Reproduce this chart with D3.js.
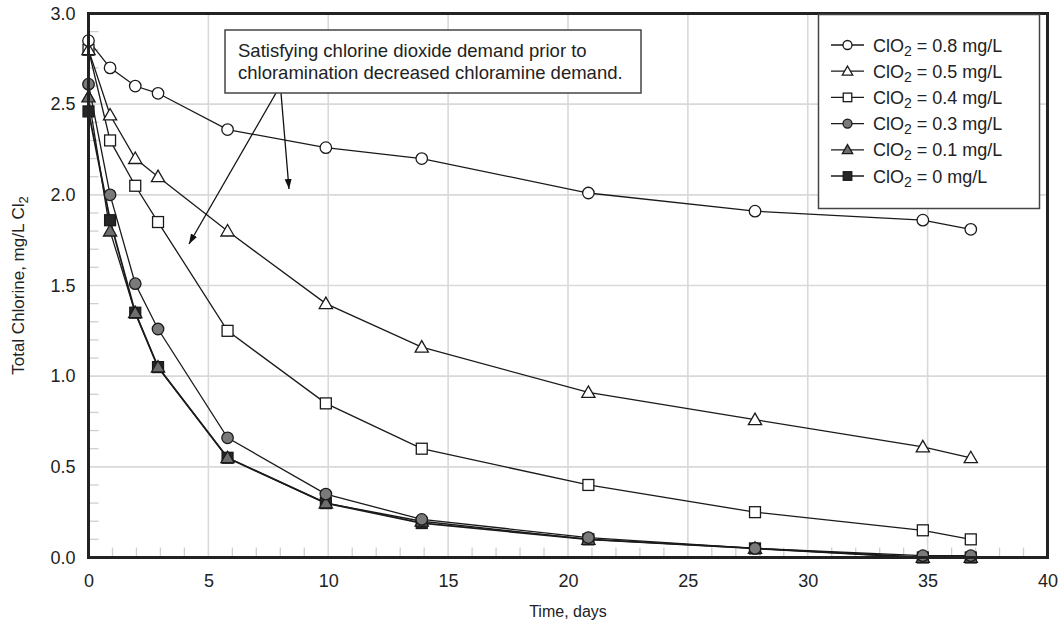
<!DOCTYPE html>
<html>
<head>
<meta charset="utf-8">
<script src="https://cdn.jsdelivr.net/npm/d3@7"></script>
<style>
  html, body { margin: 0; padding: 0; background: #fff; }
  svg { display: block; font-family: "Liberation Sans", Arial, Helvetica, sans-serif; }
</style>
</head>
<body>
<svg id="chart" width="1061" height="628"></svg>
<script>
// Sampling times (days)
const days = [0, 0.9, 1.95, 2.9, 5.8, 9.9, 13.9, 20.85, 27.8, 34.8, 36.8];

// Total chlorine (mg/L as Cl2) for each ClO2 pre-dose
const dose08 = [2.85, 2.70, 2.60, 2.56, 2.36, 2.26, 2.20, 2.01, 1.91, 1.86, 1.81];
const dose05 = [2.80, 2.44, 2.20, 2.10, 1.80, 1.40, 1.16, 0.91, 0.76, 0.61, 0.55];
const dose04 = [2.80, 2.30, 2.05, 1.85, 1.25, 0.85, 0.60, 0.40, 0.25, 0.15, 0.10];
const dose03 = [2.61, 2.00, 1.51, 1.26, 0.66, 0.35, 0.21, 0.11, 0.05, 0.01, 0.01];
const dose01 = [2.54, 1.80, 1.35, 1.05, 0.55, 0.30, 0.20, 0.10, 0.05, 0.00, 0.00];
const dose00 = [2.46, 1.86, 1.35, 1.05, 0.55, 0.30, 0.19, 0.10, 0.05, 0.00, 0.00];

const seriesLabels = ["0.8", "0.5", "0.4", "0.3", "0.1", "0"];
const xTicks = [0, 5, 10, 15, 20, 25, 30, 35, 40];
const yTicks = [0, 0.5, 1.0, 1.5, 2.0, 2.5, 3.0];
const noteLines = ["Satisfying chlorine dioxide demand prior to",
                   "chloramination decreased chloramine demand."];

const series = [
  { label: seriesLabels[0], values: dose08, shape: "circle",   fill: "#fff" },
  { label: seriesLabels[1], values: dose05, shape: "triangle", fill: "#fff" },
  { label: seriesLabels[2], values: dose04, shape: "square",   fill: "#fff" },
  { label: seriesLabels[3], values: dose03, shape: "circle",   fill: "#7a7a7a" },
  { label: seriesLabels[4], values: dose01, shape: "triangle", fill: "#6e6e6e" },
  { label: seriesLabels[5], values: dose00, shape: "square",   fill: "#262626" }
];

const svg = d3.select("#chart");
const plotL = 88.5, plotR = 1047.5, plotT = 13.5, plotB = 557.5;

const x = d3.scaleLinear().domain([0, 40]).range([plotL, plotR]);
const y = d3.scaleLinear().domain([0, 3]).range([plotB, plotT]);

// Grid lines
const grid = svg.append("g");
grid.selectAll(".vg").data(xTicks.slice(1, -1)).join("line")
  .attr("x1", d => x(d)).attr("x2", d => x(d))
  .attr("y1", plotT).attr("y2", plotB)
  .attr("stroke", "#d9d9d9").attr("stroke-width", 1.6);
grid.selectAll(".hg").data(yTicks.slice(1, -1)).join("line")
  .attr("x1", plotL).attr("x2", plotR)
  .attr("y1", d => y(d)).attr("y2", d => y(d))
  .attr("stroke", "#d9d9d9").attr("stroke-width", 1.6);

// Minor inner ticks
const xMinor = d3.range(1, 40).filter(d => d % 5 !== 0);
const yMinor = d3.range(1, 30).filter(d => d % 5 !== 0).map(d => d / 10);
grid.selectAll(".xm").data(xMinor).join("line")
  .attr("x1", d => x(d)).attr("x2", d => x(d))
  .attr("y1", plotB).attr("y2", plotB - 10)
  .attr("stroke", "#cfcfcf").attr("stroke-width", 1.3);
grid.selectAll(".ym").data(yMinor).join("line")
  .attr("x1", plotL).attr("x2", plotL + 10)
  .attr("y1", d => y(d)).attr("y2", d => y(d))
  .attr("stroke", "#cfcfcf").attr("stroke-width", 1.3);

// Axes (labels only; the frame is drawn separately)
const xAxis = svg.append("g").attr("transform", `translate(0,${plotB})`)
  .call(d3.axisBottom(x).tickValues(xTicks).tickFormat(d3.format("d")).tickSize(0).tickPadding(17));
const yAxis = svg.append("g").attr("transform", `translate(${plotL},0)`)
  .call(d3.axisLeft(y).tickValues(yTicks).tickFormat(d3.format(".1f")).tickSize(0).tickPadding(13));
[xAxis, yAxis].forEach(a => {
  a.select(".domain").remove();
  a.selectAll("text").attr("font-size", 18).attr("fill", "#222")
    .attr("font-family", "'Liberation Sans', Arial, sans-serif");
});

// Axis titles
svg.append("text").attr("x", (plotL + plotR) / 2).attr("y", 617)
  .attr("text-anchor", "middle").attr("font-size", 16).attr("fill", "#222")
  .text("Time, days");
const yt = svg.append("text")
  .attr("transform", `translate(24,${(plotT + plotB) / 2}) rotate(-90)`)
  .attr("text-anchor", "middle").attr("font-size", 17).attr("fill", "#222");
yt.append("tspan").text("Total Chlorine, mg/L Cl");
yt.append("tspan").attr("font-size", 13).attr("dy", 4).text("2");

// Markers
function marker(sel, shape, fill, size) {
  if (shape === "circle") {
    sel.append("circle").attr("r", size * 0.5).attr("fill", fill);
  } else if (shape === "square") {
    const s = size * 0.95;
    sel.append("rect").attr("x", -s / 2).attr("y", -s / 2).attr("width", s).attr("height", s).attr("fill", fill);
  } else {
    const h = size * 0.95, w = size * 1.15;
    sel.append("path").attr("d", `M0,${-h * 0.6}L${w / 2},${h * 0.45}L${-w / 2},${h * 0.45}Z`).attr("fill", fill);
  }
  sel.selectAll("*").attr("stroke", "#1a1a1a").attr("stroke-width", 1.3);
}

const line = d3.line().x((d, i) => x(days[i])).y(d => y(d));
const plot = svg.append("g");
series.forEach((s, k) => {
  plot.append("path").datum(s.values)
    .attr("d", line).attr("fill", "none")
    .attr("stroke", "#1a1a1a").attr("stroke-width", k === 5 ? 1.8 : 1.3);
});
series.slice().reverse().forEach(s => {
  s.values.forEach((v, i) => {
    const g = plot.append("g").attr("transform", `translate(${x(days[i])},${y(v)})`);
    marker(g, s.shape, s.fill, 11.5);
  });
});

// Frame
svg.append("rect").attr("x", plotL).attr("y", plotT)
  .attr("width", plotR - plotL).attr("height", plotB - plotT)
  .attr("fill", "none").attr("stroke", "#222").attr("stroke-width", 3);

// Legend
const lg = svg.append("g");
lg.append("rect").attr("x", 818.5).attr("y", 14.5).attr("width", 221).attr("height", 194)
  .attr("fill", "#fff").attr("stroke", "#444").attr("stroke-width", 1.5);
series.forEach((s, i) => {
  const cy = 45 + i * 26.2;
  lg.append("line").attr("x1", 831).attr("x2", 864).attr("y1", cy).attr("y2", cy)
    .attr("stroke", "#1a1a1a").attr("stroke-width", 1.3);
  marker(lg.append("g").attr("transform", `translate(847.5,${cy})`), s.shape, s.fill, 9);
  const t = lg.append("text").attr("x", 873).attr("y", cy + 6.5)
    .attr("font-size", 18).attr("fill", "#222");
  t.append("tspan").text("ClO");
  t.append("tspan").attr("font-size", 14).attr("dy", 4).text("2");
  t.append("tspan").attr("dy", -4).text(` = ${s.label} mg/L`);
});

// Annotation with arrows
const defs = svg.append("defs");
defs.append("marker").attr("id", "arrowhead").attr("viewBox", "0 0 10 10")
  .attr("refX", 10).attr("refY", 5).attr("markerWidth", 10).attr("markerHeight", 10)
  .attr("markerUnits", "userSpaceOnUse").attr("orient", "auto")
  .append("path").attr("d", "M0,1.5L10,5L0,8.5Z").attr("fill", "#111");

const arrows = [[276, 93, 189, 244], [281, 93, 289, 189]];
svg.selectAll(".arr").data(arrows).join("line")
  .attr("x1", d => d[0]).attr("y1", d => d[1]).attr("x2", d => d[2]).attr("y2", d => d[3])
  .attr("stroke", "#111").attr("stroke-width", 1.3).attr("marker-end", "url(#arrowhead)");

svg.append("rect").attr("x", 225).attr("y", 30).attr("width", 416).attr("height", 63)
  .attr("fill", "#fff").attr("stroke", "#444").attr("stroke-width", 1.5);
noteLines.forEach((t, i) => {
  svg.append("text").attr("x", 238).attr("y", 57 + i * 22)
    .attr("font-size", 18.5).attr("fill", "#222").text(t);
});
</script>
</body>
</html>
